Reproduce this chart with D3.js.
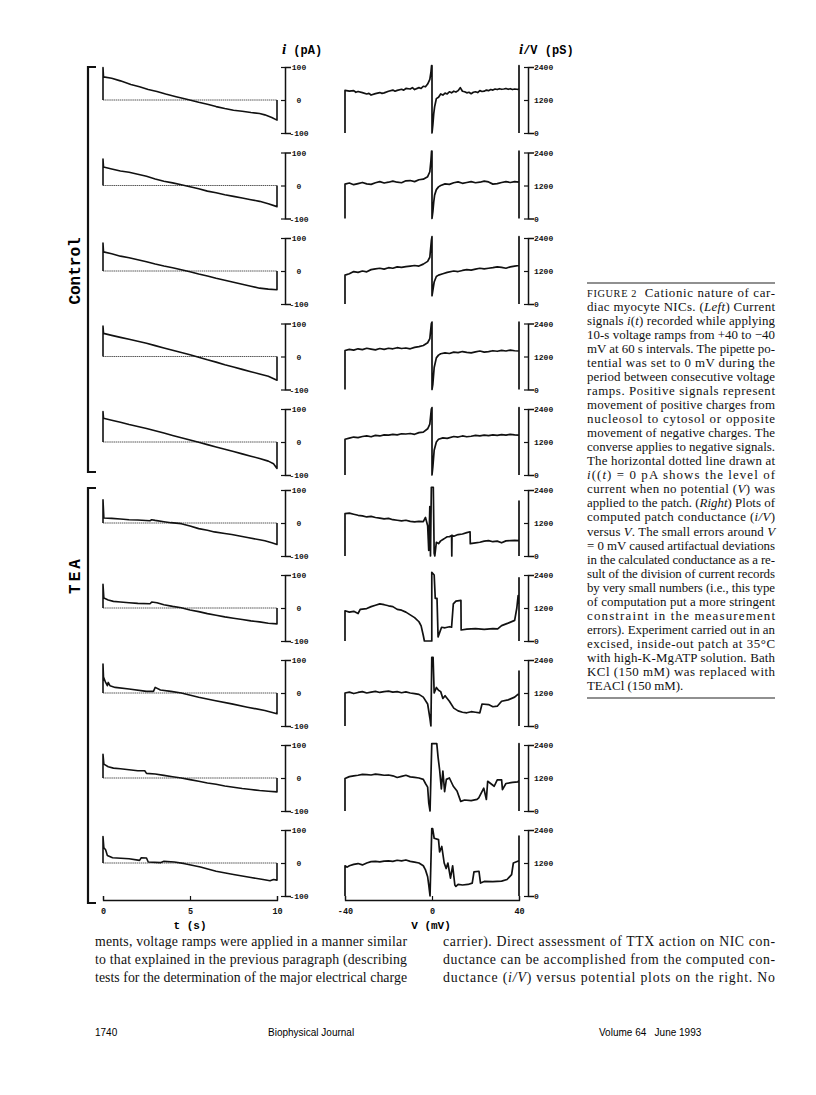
<!DOCTYPE html>
<html><head><meta charset="utf-8">
<script src="https://cdn.jsdelivr.net/npm/d3@7"></script>
<style>body{margin:0;background:#fff}</style>
</head><body>
<svg id="fig" width="816" height="1095"></svg>
<script>
// ---- data ----
var tTicks = [0, 5, 10];
var vTicks = [-40, 0, 40];
var iTicks = [100, 0, -100];
var gTicks = [2400, 1200, 0];
var groupNames = ["Control", "TEA"];

// current i(t), [t s, pA]
var ctlI1 = [[0,0],[0,98],[0.03,70],[0.5,66],[1,58],[1.6,47],[2.1,40],[2.6,32],[3.1,26],[3.6,18],[4.2,10],[4.75,3],[5.5,-7],[6,-13],[6.5,-20],[7,-26],[7.5,-31],[8,-34],[8.5,-38],[9,-41],[9.3,-45],[9.7,-53],[10,-61],[10,0]];
var ctlI2 = [[0,0],[0,80],[0.03,56],[0.5,50],[1,44],[1.5,40],[2,34],[2.5,28],[3,20],[3.5,13],[4,8],[4.5,2],[5,-4],[5.5,-10],[6,-17],[6.5,-22],[7,-28],[7.5,-33],[8,-38],[8.5,-43],[9,-48],[9.5,-55],[10,-64],[10,0]];
var ctlI3 = [[0,0],[0,85],[0.03,58],[0.5,52],[1,45],[1.5,40],[2,34],[2.5,28],[3,21],[3.5,15],[4,10],[4.5,4],[5,-2],[5.5,-9],[6,-15],[6.5,-22],[7,-28],[7.5,-34],[8,-40],[8.5,-46],[9,-52],[9.5,-55],[10,-57],[10,0]];
var ctlI4 = [[0,0],[0,92],[0.03,70],[0.5,64],[1,58],[1.5,52],[2,46],[2.5,40],[3,33],[3.5,26],[4,19],[4.5,12],[5,5],[5.5,-2],[6,-10],[6.5,-17],[7,-25],[7.5,-32],[8,-39],[8.5,-46],[9,-53],[9.5,-60],[10,-72],[10,0]];
var ctlI5 = [[0,0],[0,92],[0.03,72],[0.5,66],[1,60],[1.5,53],[2,47],[2.5,41],[3,34],[3.5,27],[4,20],[4.5,13],[5,6],[5.5,-1],[6,-8],[6.5,-15],[7,-22],[7.5,-29],[8,-36],[8.5,-43],[9,-50],[9.5,-58],[9.8,-66],[10,-80],[10,0]];
var teaI1 = [[0,0],[0,70],[0.05,15],[0.5,14],[1,12],[1.5,10],[2,9],[2.7,7],[2.8,10],[3,8],[3.5,4],[3.9,1],[4.5,-2],[5,-9],[5.5,-17],[6,-22],[6.4,-27],[7,-32],[7.4,-35],[8,-41],[8.3,-44],[9,-51],[9.3,-54],[9.7,-60],[10,-65],[10,0]];
var teaI2 = [[0,0],[0,72],[0.05,30],[0.3,24],[0.6,20],[1,18],[1.5,16],[2,14],[2.7,13],[2.8,18],[3.1,16],[3.5,10],[4,5],[4.5,1],[5,-6],[5.5,-11],[6,-17],[6.5,-22],[7,-27],[7.5,-31],[8,-35],[8.5,-39],[9,-42],[9.5,-46],[10,-48],[10,0]];
var teaI3 = [[0,0],[0,88],[0.03,48],[0.15,32],[0.25,22],[0.3,32],[0.4,22],[0.7,17],[1.5,12],[2.5,5],[2.9,5],[3,17],[3.3,9],[3.9,5],[4.5,0],[5.5,-13],[6.4,-23],[7.4,-33],[8.3,-43],[9.3,-53],[10,-63],[10,0]];
var teaI4 = [[0,0],[0,72],[0.05,42],[0.3,34],[0.6,30],[1,28],[1.5,25],[2,22],[2.4,22],[2.5,14],[3,12],[3.5,8],[4,4],[4.5,0],[5,-5],[5.5,-10],[6,-15],[6.5,-19],[7,-24],[7.5,-28],[8,-32],[8.5,-35],[9,-38],[9.5,-40],[10,-42],[10,0]];
var teaI5 = [[0,0],[0,80],[0.05,46],[0.15,40],[0.25,23],[0.55,16],[1.5,13],[2.1,8],[2.2,16],[2.5,15],[2.6,3],[3.3,1],[3.5,5],[4.1,3],[4.7,-2],[5.6,-12],[6.5,-25],[7.5,-35],[8.5,-44],[9.2,-50],[9.6,-54],[9.8,-50],[10,-52],[10,0]];

// conductance i/V, [V mV, pS]
var ctlG1 = [[-40,0],[-40,1550],[-38,1520],[-36,1540],[-35,1480],[-34,1510],[-32,1470],[-30,1420],[-29,1440],[-28,1380],[-26,1430],[-24,1470],[-23,1440],[-22,1460],[-20,1520],[-18,1560],[-17,1520],[-16,1550],[-14,1590],[-13,1560],[-12,1620],[-10,1600],[-9,1650],[-8,1580],[-6,1650],[-5,1620],[-4,1700],[-3,1680],[-2,1780],[-1,1950],[-0.5,2200],[-0.2,2450],[0,2450],[0,0],[0.4,300],[0.8,700],[1.2,950],[1.6,1100],[2,1250],[3,1300],[4,1420],[5,1380],[6,1450],[7,1420],[8,1500],[9,1460],[10,1520],[11,1490],[12,1540],[13,1650],[14,1520],[15,1500],[16,1460],[17,1480],[18,1430],[19,1480],[20,1500],[21,1470],[22,1540],[23,1510],[24,1520],[25,1560],[26,1540],[27,1580],[28,1560],[29,1600],[30,1580],[31,1610],[32,1590],[33,1600],[34,1620],[35,1590],[36,1610],[37,1580],[38,1600],[39,1590],[40,1580],[40,2450],[40,0]];
var ctlG2 = [[-40,0],[-40,1250],[-38,1290],[-36,1230],[-34,1270],[-32,1310],[-30,1260],[-28,1240],[-26,1300],[-24,1340],[-22,1290],[-20,1320],[-18,1360],[-16,1320],[-14,1300],[-12,1370],[-10,1380],[-8,1340],[-6,1410],[-4,1430],[-2,1520],[-1,1700],[-0.5,2100],[-0.2,2450],[0,2450],[0,0],[0.4,250],[0.8,600],[1.2,850],[2,1050],[3,1150],[4,1200],[6,1260],[8,1240],[10,1300],[12,1330],[14,1280],[16,1310],[18,1340],[20,1300],[22,1320],[24,1360],[26,1330],[28,1250],[30,1270],[32,1310],[34,1340],[36,1310],[38,1340],[40,1320],[40,2450],[40,0]];
var ctlG3 = [[-40,0],[-40,1050],[-38,1100],[-36,1180],[-34,1150],[-32,1200],[-30,1170],[-28,1250],[-26,1280],[-24,1300],[-22,1270],[-20,1320],[-18,1300],[-16,1350],[-14,1330],[-12,1360],[-10,1380],[-8,1400],[-6,1380],[-4,1450],[-2,1550],[-1,1700],[-0.3,2300],[0,2450],[0,300],[0.4,500],[1,800],[2,1000],[3,1050],[5,1100],[7,1150],[10,1200],[12,1180],[14,1220],[16,1250],[18,1230],[20,1270],[22,1300],[24,1280],[26,1300],[28,1320],[30,1350],[32,1330],[34,1300],[36,1350],[38,1380],[40,1400],[40,2450],[40,0]];
var ctlG4 = [[-40,0],[-40,1420],[-38,1460],[-36,1430],[-34,1480],[-32,1450],[-30,1500],[-28,1470],[-26,1440],[-24,1490],[-22,1460],[-20,1500],[-18,1480],[-16,1520],[-14,1490],[-12,1510],[-10,1480],[-8,1530],[-6,1560],[-4,1600],[-2,1700],[-1,1850],[-0.3,2400],[0,2450],[0,0],[0.4,200],[1,800],[2,1150],[3,1250],[4,1300],[6,1330],[8,1310],[10,1360],[12,1340],[14,1380],[16,1350],[18,1330],[20,1370],[22,1400],[24,1360],[26,1380],[28,1410],[30,1390],[32,1420],[34,1400],[36,1430],[38,1410],[40,1400],[40,2450],[40,0]];
var ctlG5 = [[-40,0],[-40,1300],[-38,1340],[-36,1380],[-34,1360],[-32,1400],[-30,1420],[-28,1390],[-26,1440],[-24,1420],[-22,1460],[-20,1450],[-18,1480],[-16,1460],[-14,1500],[-12,1490],[-10,1510],[-8,1480],[-6,1540],[-4,1560],[-2,1680],[-1,1850],[-0.3,2400],[0,2450],[0,0],[0.4,300],[1,900],[2,1200],[3,1300],[5,1350],[7,1330],[10,1400],[12,1380],[14,1420],[16,1390],[18,1410],[20,1440],[22,1420],[24,1450],[26,1430],[28,1460],[30,1440],[32,1470],[34,1450],[36,1480],[38,1460],[40,1450],[40,2450],[40,0]];
var teaG1 = [[-40,0],[-40,1540],[-38,1560],[-36,1520],[-34,1480],[-32,1460],[-30,1420],[-28,1440],[-26,1400],[-24,1380],[-22,1350],[-20,1370],[-18,1320],[-16,1300],[-14,1280],[-12,1300],[-10,1260],[-8,1240],[-6,1260],[-4,1250],[-3,1400],[-2,1100],[-1.5,200],[-1,1800],[-0.7,0],[-0.3,2500],[0.2,2500],[0.6,2500],[1,100],[1.3,0],[2,500],[3,450],[4,550],[5,600],[6,650],[7,700],[8,700],[9,750],[9.1,0],[9.2,750],[10,720],[12,780],[14,800],[16,850],[17.5,880],[17.6,450],[20,480],[22,500],[24,540],[26,560],[28,520],[30,540],[32,480],[34,550],[36,560],[38,570],[40,560],[40,2000],[40,0]];
var teaG2 = [[-40,0],[-40,1100],[-38,1050],[-36,1080],[-34,1000],[-33,1150],[-30,1180],[-28,1250],[-26,1300],[-24,1350],[-22,1320],[-20,1280],[-18,1250],[-16,1150],[-14,1120],[-12,1050],[-10,950],[-8,850],[-6,700],[-5,550],[-4,200],[-3.5,0],[-0.1,0],[-0.1,2500],[1,2400],[1.5,1550],[2.3,1550],[2.8,150],[4.4,500],[6,480],[8,520],[9,500],[9.8,1350],[11,1450],[13.3,1480],[13.4,400],[16,430],[20,450],[24,420],[28,450],[30.2,440],[32,560],[35,650],[38,750],[39,1200],[39.6,1650],[40,1650],[40,2300],[40,0]];
var teaG3 = [[-40,0],[-40,1200],[-38,1230],[-36,1180],[-34,1220],[-32,1250],[-30,1200],[-28,1230],[-26,1260],[-24,1220],[-22,1250],[-20,1270],[-18,1230],[-16,1250],[-14,1210],[-12,1240],[-10,1200],[-8,1180],[-6,1150],[-4,1050],[-2,800],[-1,300],[-0.5,0],[-0.1,2500],[0.5,2500],[1,1200],[2,1400],[3,1300],[4,1250],[5,1000],[6,1100],[8,900],[10,650],[12,550],[14,500],[16,480],[18,520],[20,500],[22,480],[23,800],[26,780],[28,700],[30,720],[32,900],[35,950],[38,1050],[39.5,1150],[40,1150],[40,2000],[40,0]];
var teaG4 = [[-40,0],[-40,1180],[-38,1250],[-36,1280],[-34,1300],[-32,1330],[-30,1320],[-28,1310],[-26,1340],[-24,1320],[-22,1300],[-20,1310],[-18,1280],[-16,1220],[-14,1260],[-12,1300],[-10,1240],[-8,1220],[-6,1200],[-4,1150],[-3,1000],[-2,870],[-1.5,300],[-0.9,0],[-0.1,2450],[2.2,2450],[2.8,1950],[3.5,1500],[4.3,800],[5,1450],[5.8,700],[6.6,1150],[8,1200],[9.8,900],[11.5,730],[13.2,350],[15,400],[18,380],[20.7,420],[21.5,480],[23.8,830],[25,420],[25.6,1080],[28.6,900],[30,1130],[32,1130],[32.4,780],[34,1000],[37,1040],[39.5,1060],[40,1120],[40,2450],[40,0]];
var teaG5 = [[-40,0],[-40,1100],[-39,1050],[-38,1100],[-36,1150],[-34,1180],[-32,1130],[-30,1200],[-28,1250],[-26,1260],[-24,1240],[-22,1270],[-20,1280],[-18,1260],[-16,1300],[-14,1280],[-12,1310],[-10,1260],[-8,1230],[-6,1200],[-4,1100],[-3,950],[-2,700],[-1.5,400],[-0.9,0],[-0.1,2450],[0.3,2450],[1,2100],[3,2050],[3.5,1600],[4.5,1800],[5.6,1200],[6.5,1000],[7.3,1200],[8.5,650],[9.5,1100],[10.5,400],[11,350],[12,420],[14,400],[16.5,420],[18.5,470],[19.3,880],[21.6,900],[22.3,470],[24,530],[28,520],[32,540],[34.5,600],[36.6,780],[37.4,1200],[39.7,1270],[40,1300],[40,2180],[40,0]];

var currents = [ctlI1, ctlI2, ctlI3, ctlI4, ctlI5, teaI1, teaI2, teaI3, teaI4, teaI5];
var conductances = [ctlG1, ctlG2, ctlG3, ctlG4, ctlG5, teaG1, teaG2, teaG3, teaG4, teaG5];

var captionLines = [
  [["sc","FIGURE 2"],["n","  Cationic nature of car-"]],
  [["n","diac myocyte NICs. ("],["i","Left"],["n",") Current"]],
  [["n","signals "],["i","i"],["n","("],["i","t"],["n",") recorded while applying"]],
  [["n","10-s voltage ramps from +40 to \u221240"]],
  [["n","mV at 60 s intervals. The pipette po-"]],
  [["n","tential was set to 0 mV during the"]],
  [["n","period between consecutive voltage"]],
  [["n","ramps. Positive signals represent"]],
  [["n","movement of positive charges from"]],
  [["n","nucleosol to cytosol or opposite"]],
  [["n","movement of negative charges. The"]],
  [["n","converse applies to negative signals."]],
  [["n","The horizontal dotted line drawn at"]],
  [["i","i"],["n","(("],["i","t"],["n",") = 0 pA shows the level of"]],
  [["n","current when no potential ("],["i","V"],["n",") was"]],
  [["n","applied to the patch. ("],["i","Right"],["n",") Plots of"]],
  [["n","computed patch conductance ("],["i","i/V"],["n",")"]],
  [["n","versus "],["i","V"],["n",". The small errors around "],["i","V"]],
  [["n","= 0 mV caused artifactual deviations"]],
  [["n","in the calculated conductance as a re-"]],
  [["n","sult of the division of current records"]],
  [["n","by very small numbers (i.e., this type"]],
  [["n","of computation put a more stringent"]],
  [["n","constraint in the measurement"]],
  [["n","errors). Experiment carried out in an"]],
  [["n","excised, inside-out patch at 35\u00b0C"]],
  [["n","with high-K-MgATP solution. Bath"]],
  [["n","KCl (150 mM) was replaced with"]],
  [["n","TEACl (150 mM)."]]
];
var bodyLeft = [
  [["n","ments, voltage ramps were applied in a manner similar"]],
  [["n","to that explained in the previous paragraph (describing"]],
  [["n","tests for the determination of the major electrical charge"]]
];
var bodyRight = [
  [["n","carrier). Direct assessment of TTX action on NIC con-"]],
  [["n","ductance can be accomplished from the computed con-"]],
  [["n","ductance ("],["i","i/V"],["n",") versus potential plots on the right. No"]]
];

// ---- layout ----
var svg = d3.select("#fig");
var mono = "'Liberation Mono', 'DejaVu Sans Mono', monospace";
var serif = "'Liberation Serif', 'DejaVu Serif', serif";

function rowY(k) { return k < 5 ? 100 + k * 85.5 : 523 + (k - 5) * 85; }

var xT = d3.scaleLinear().domain([0, 10]).range([103, 277]);
var xV = d3.scaleLinear().domain([-40, 40]).range([345, 519]);
var yI = d3.scaleLinear().domain([-100, 100]).range([33, -33]);
var yG = d3.scaleLinear().domain([0, 2400]).range([33, -33]);

var lineI = d3.line().x(function(d){ return xT(d[0]); }).y(function(d){ return yI(d[1]); });
var lineG = d3.line().x(function(d){ return xV(d[0]); }).y(function(d){ return yG(d[1]); });

function minusFmt(d) { return d < 0 ? "-" + (-d) : String(d); }

for (var k = 0; k < 10; k++) {
  var row = svg.append("g").attr("transform", "translate(0," + rowY(k) + ")");

  // dotted zero line
  row.append("line")
    .attr("x1", xT(0)).attr("x2", xT(10))
    .attr("y1", yI(0)).attr("y2", yI(0))
    .attr("stroke", "#444").attr("stroke-width", 0.9)
    .attr("stroke-dasharray", "1.5,0.6");

  row.append("path").datum(currents[k])
    .attr("d", lineI).attr("fill", "none")
    .attr("stroke", "#111").attr("stroke-width", 1.6)
    .attr("stroke-linejoin", "round");

  row.append("path").datum(conductances[k])
    .attr("d", lineG).attr("fill", "none")
    .attr("stroke", "#111").attr("stroke-width", 1.7)
    .attr("stroke-linejoin", "round");

  // bracket axes
  var axI = row.append("g").attr("transform", "translate(285,0)")
    .call(d3.axisRight(yI).tickValues(iTicks).tickSizeInner(-4).tickSizeOuter(6).tickPadding(14)
      .tickFormat(minusFmt));
  axI.selectAll("text").attr("text-anchor", "middle");

  var axG = row.append("g").attr("transform", "translate(528,0)")
    .call(d3.axisRight(yG).tickValues(gTicks).tickSizeInner(-4).tickSizeOuter(6).tickPadding(6)
      .tickFormat(minusFmt));

  [axI, axG].forEach(function(a){
    a.select(".domain").attr("stroke", "#111").attr("stroke-width", 1.5);
    a.selectAll(".tick line").attr("stroke", "#111").attr("stroke-width", 1.2);
    a.selectAll("text").attr("font-family", mono).attr("font-weight", "bold")
      .attr("font-size", 8).attr("fill", "#111");
  });
}

// bottom axes
var axT = svg.append("g").attr("transform", "translate(0,900)")
  .call(d3.axisBottom(xT).tickValues(tTicks).tickSizeInner(-4).tickSizeOuter(-4).tickPadding(8));
var axV = svg.append("g").attr("transform", "translate(0,900)")
  .call(d3.axisBottom(xV).tickValues(vTicks).tickSizeInner(-4).tickSizeOuter(-4).tickPadding(8)
    .tickFormat(minusFmt));
[axT, axV].forEach(function(a){
  a.select(".domain").attr("stroke", "#111").attr("stroke-width", 1.3);
  a.selectAll(".tick line").attr("stroke", "#111").attr("stroke-width", 1.2);
  a.selectAll("text").attr("font-family", mono).attr("font-weight", "bold")
    .attr("font-size", 8.5).attr("fill", "#111");
});

svg.append("text").attr("x", 190).attr("y", 929).attr("text-anchor", "middle")
  .attr("font-family", mono).attr("font-weight", "bold").attr("font-size", 11).text("t (s)");
svg.append("text").attr("x", 431).attr("y", 929).attr("text-anchor", "middle")
  .attr("font-family", mono).attr("font-weight", "bold").attr("font-size", 11).text("V (mV)");

// top labels
var lab1 = svg.append("text").attr("x", 282).attr("y", 54)
  .attr("font-family", mono).attr("font-weight", "bold").attr("font-size", 12);
lab1.append("tspan").attr("font-family", serif).attr("font-style", "italic").attr("font-size", 15).text("i");
lab1.append("tspan").text(" (pA)");
var lab2 = svg.append("text").attr("x", 519).attr("y", 54)
  .attr("font-family", mono).attr("font-weight", "bold").attr("font-size", 12);
lab2.append("tspan").attr("font-family", serif).attr("font-style", "italic").attr("font-size", 15).text("i");
lab2.append("tspan").text("/V (pS)");

// group brackets and names
var groupSpans = [[67, 472], [488, 903]];
var nameY = [271, 575];
groupSpans.forEach(function(s, g){
  svg.append("path")
    .attr("d", "M96," + s[0] + "H88V" + s[1] + "H96")
    .attr("fill", "none").attr("stroke", "#111").attr("stroke-width", 2.2);
  svg.append("text")
    .attr("transform", "translate(80," + nameY[g] + ") rotate(-90)")
    .attr("text-anchor", "middle")
    .attr("font-family", mono).attr("font-weight", "bold").attr("font-size", 16)
    .attr("letter-spacing", g ? 3 : 0)
    .text(groupNames[g]);
});

// justified text blocks
function textBlock(lines, x, y0, lh, width, size, justifyLast) {
  lines.forEach(function(parts, j){
    var t = svg.append("text").attr("x", x).attr("y", y0 + j * lh)
      .attr("font-family", serif).attr("font-size", size).attr("fill", "#111")
      .attr("xml:space", "preserve");
    parts.forEach(function(p){
      var s = t.append("tspan").text(p[1]);
      if (p[0] === "i") s.attr("font-style", "italic");
      if (p[0] === "sc") s.attr("font-size", size * 0.8);
    });
    if (j < lines.length - 1 || justifyLast) {
      t.attr("textLength", width).attr("lengthAdjust", "spacing");
    }
  });
}

svg.append("line").attr("x1", 587).attr("x2", 775).attr("y1", 283).attr("y2", 283)
  .attr("stroke", "#222").attr("stroke-width", 1.2);
svg.append("line").attr("x1", 587).attr("x2", 775).attr("y1", 698).attr("y2", 698)
  .attr("stroke", "#222").attr("stroke-width", 1.2);
textBlock(captionLines, 587, 297, 14.03, 188, 12.9, false);

textBlock(bodyLeft, 95, 946, 18, 312, 13.8, true);
textBlock(bodyRight, 443, 946, 18, 332, 13.8, true);

// footer
var sans = "'Liberation Sans', Arial, sans-serif";
svg.append("text").attr("x", 95).attr("y", 1036).attr("font-family", sans).attr("font-size", 10).text("1740");
svg.append("text").attr("x", 268).attr("y", 1036).attr("font-family", sans).attr("font-size", 10).text("Biophysical Journal");
svg.append("text").attr("x", 599).attr("y", 1036).attr("font-family", sans).attr("font-size", 10)
  .attr("xml:space", "preserve").text("Volume 64   June 1993");
</script>
</body></html>
